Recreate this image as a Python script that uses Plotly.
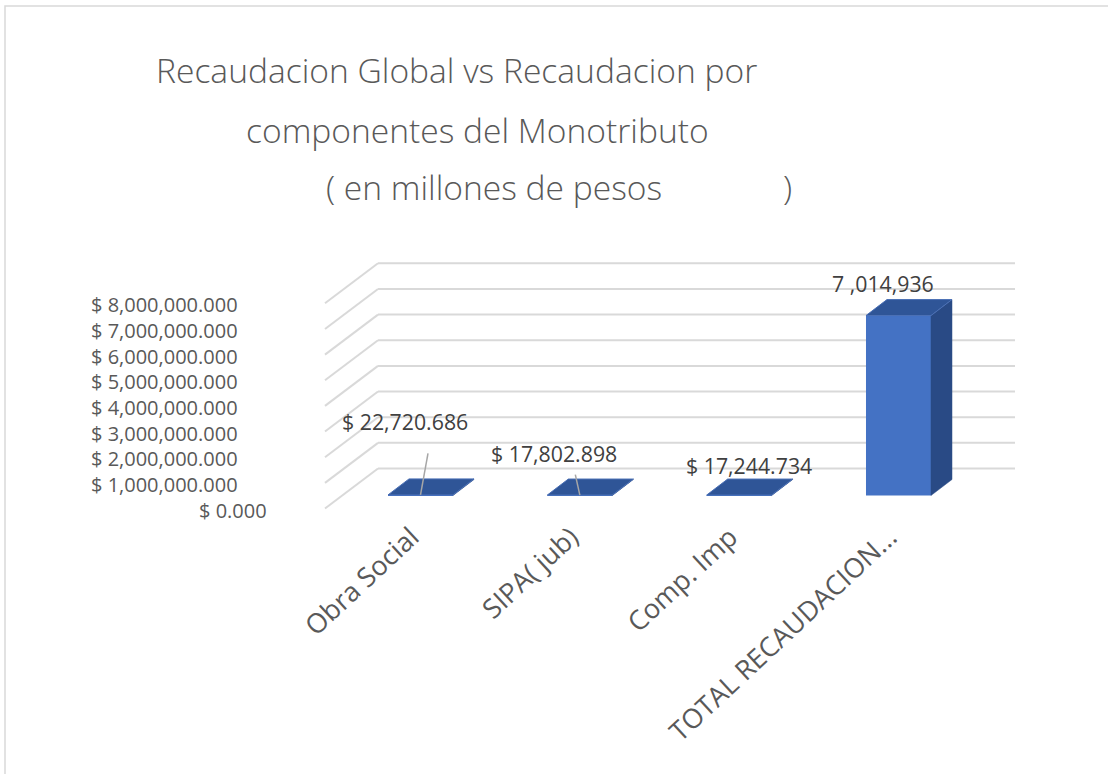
import plotly.graph_objects as go

# ---------------- data ----------------
categories = ["Obra Social", "SIPA( jub)", "Comp. Imp", "TOTAL RECAUDACION..."]
values = [22720.686, 17802.898, 17244.734, 7014936]
value_labels = ["$ 22,720.686", "$ 17,802.898", "$ 17,244.734", "7 ,014,936"]
y_tick_values = [0, 1e6, 2e6, 3e6, 4e6, 5e6, 6e6, 7e6, 8e6]
y_tick_labels = ["$ 0.000", "$ 1,000,000.000", "$ 2,000,000.000", "$ 3,000,000.000",
                 "$ 4,000,000.000", "$ 5,000,000.000", "$ 6,000,000.000",
                 "$ 7,000,000.000", "$ 8,000,000.000"]
title_lines = ["Recaudacion Global vs Recaudacion por",
               "componentes del Monotributo",
               "( en millones de pesos", ")"]

# ---------------- layout geometry (pixels) ----------------
FIG_W, FIG_H = 1108, 774
PL, PT, PW, PH = 300, 240, 740, 274          # plot area
CAT0_PX = 420.5                              # pixel x of first category (front face centre)
CAT_STEP = 159.33                            # pixels between categories
ZERO_PX = 495.5                              # pixel y of value 0 on bar front plane
PX_PER_UNIT = 25.65 / 1e6                    # pixels per value unit
BAR_W_PX = 65
DEPTH_BAR = (21, 16)                         # bar depth offset (right, up)
BACK_OFF = (35.8, 27)                        # back wall offset from bar front plane
FRONT_OFF = (-17.2, -13)                     # front edge of side wall/floor
SIDE_FRONT_X, SIDE_BACK_X, BACK_RIGHT_X = 325, 378, 1015

def dx(px):
    return px / CAT_STEP

def dy(px):
    return px / PX_PER_UNIT

def xdata(px):
    return (px - CAT0_PX) / CAT_STEP

x_range = [xdata(PL), xdata(PL + PW)]
y_range = [dy(ZERO_PX - (PT + PH)), dy(ZERO_PX - PT)]

def paper_x(px):
    return (px - PL) / PW

def paper_y(py):
    return (PT + PH - py) / PH

idx = list(range(len(categories)))
bw = dx(BAR_W_PX)

FRONT = "#4472C4"
TOP = "#2F5597"
SIDE = "#294A85"
GRID = "#D9D9D9"
TXT = "#595959"
FONT = "Open Sans"

fig = go.Figure()
fig.add_trace(go.Bar(
    x=idx, y=values, width=bw, marker=dict(color=FRONT, line=dict(width=0)),
    hoverinfo="skip", showlegend=False))

shapes = []
# back wall and side wall gridlines
for v in y_tick_values:
    yb = v + dy(BACK_OFF[1])
    shapes.append(dict(type="line", xref="x", yref="y", layer="below",
                       x0=xdata(SIDE_BACK_X), x1=xdata(BACK_RIGHT_X), y0=yb, y1=yb,
                       line=dict(color=GRID, width=2)))
    shapes.append(dict(type="line", xref="x", yref="y", layer="below",
                       x0=xdata(SIDE_FRONT_X), y0=v + dy(FRONT_OFF[1]),
                       x1=xdata(SIDE_BACK_X), y1=yb,
                       line=dict(color=GRID, width=2)))

# 3D faces of bars
for i, v in zip(idx, values):
    xl, xr = i - bw / 2, i + bw / 2
    ox, oy = dx(DEPTH_BAR[0]), dy(DEPTH_BAR[1])
    top = f"M {xl},{v} L {xr},{v} L {xr+ox},{v+oy} L {xl+ox},{v+oy} Z"
    side = f"M {xr},0 L {xr},{v} L {xr+ox},{v+oy} L {xr+ox},{oy} Z"
    shapes.append(dict(type="path", xref="x", yref="y", path=side,
                       fillcolor=SIDE, line=dict(color=SIDE, width=0.5)))
    shapes.append(dict(type="path", xref="x", yref="y", path=top,
                       fillcolor=TOP, line=dict(color="#4A6FB5", width=1)))

# data labels (manual offsets in pixels, relative to bar front-top centre)
label_off = [(-15.5, 73), (-26, 42), (10, 30), (-15, 32.5)]
leader = [(7.5, 41.5), (-4.5, 20.5), None, None]
annotations = []
for i, v, t, off, ld in zip(idx, values, value_labels, label_off, leader):
    annotations.append(dict(x=i + dx(off[0]), y=v + dy(off[1]), xref="x", yref="y",
                            text=t, showarrow=False, xanchor="center", yanchor="middle",
                            font=dict(family=FONT, size=21.3, color="#404040")))
    if ld:
        shapes.append(dict(type="line", xref="x", yref="y",
                           x0=i + dx(ld[0]), y0=v + dy(ld[1]), x1=i, y1=v,
                           line=dict(color="#A6A6A6", width=1.5)))

# value axis labels (aligned with front edge of the side wall)
for v, t in zip(y_tick_values, y_tick_labels):
    right_px = 268 if v == 0 else 239
    annotations.append(dict(x=paper_x(right_px), y=v + dy(FRONT_OFF[1] - 1.5),
                            xref="paper", yref="y", text=t, showarrow=False,
                            xanchor="right", yanchor="middle", borderpad=0,
                            font=dict(family=FONT, size=20, color=TXT)))

# title lines
title_pos = [(154, 70), (244, 130), (324, 187), (781, 187)]
for t, (px, py) in zip(title_lines, title_pos):
    annotations.append(dict(x=paper_x(px), y=paper_y(py), xref="paper", yref="paper",
                            text=t, showarrow=False, xanchor="left", yanchor="middle",
                            font=dict(family=FONT, size=33.6, color=TXT, weight=300)))

# chart border
shapes.append(dict(type="rect", xref="paper", yref="paper",
                   x0=paper_x(5), x1=paper_x(FIG_W + 5), y0=paper_y(FIG_H + 5), y1=paper_y(6),
                   line=dict(color=GRID, width=1.5), layer="below"))

fig.update_layout(
    width=FIG_W, height=FIG_H, autosize=False,
    margin=dict(l=PL, r=FIG_W - PL - PW, t=PT, b=FIG_H - PT - PH, pad=0),
    paper_bgcolor="white", plot_bgcolor="white",
    shapes=shapes, annotations=annotations,
    xaxis=dict(range=x_range, tickmode="array", tickvals=idx, ticktext=categories,
               tickangle=-43, showgrid=False, zeroline=False, showline=False, ticks="",
               tickfont=dict(family=FONT, size=27, color=TXT),
               ticklabelshift=-9, ticklabelstandoff=1, fixedrange=True),
    yaxis=dict(range=y_range, showgrid=False, zeroline=False, showline=False,
               showticklabels=False, ticks="", fixedrange=True),
    showlegend=False,
)

fig.write_html("out.html", config={"displayModeBar": False},
               post_script="document.body.style.margin='0';")
